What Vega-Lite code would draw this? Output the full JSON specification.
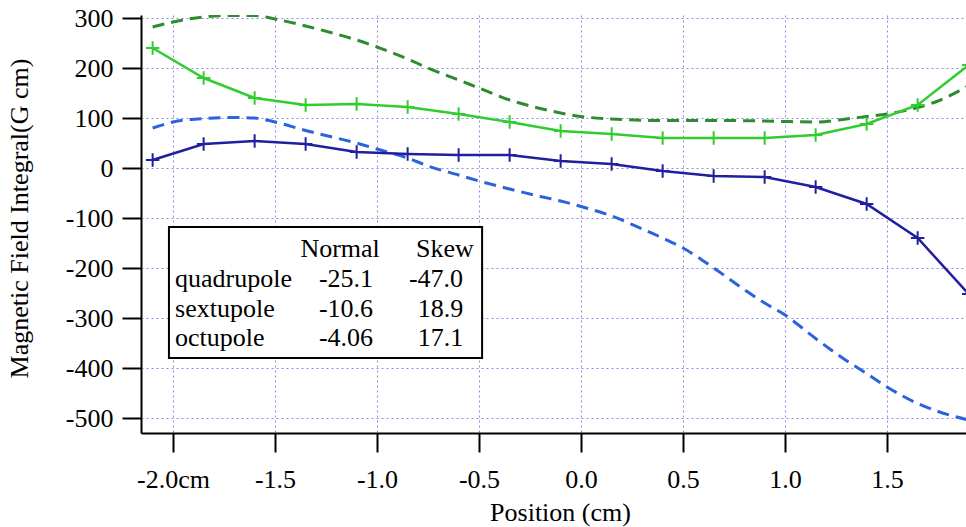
{
  "$schema": "https://vega.github.io/schema/vega-lite/v6.json",
  "width": 825,
  "height": 418,
  "autosize": "none",
  "padding": {"left": 141, "top": 15, "right": 0, "bottom": 94},
  "background": "white",
  "config": {
    "view": {"stroke": null},
    "font": "Liberation Serif",
    "axis": {
      "labelFont": "Liberation Serif",
      "labelFontSize": 26,
      "labelColor": "black",
      "titleFont": "Liberation Serif",
      "titleFontSize": 26,
      "titleFontWeight": "normal",
      "titleColor": "black",
      "domainColor": "black",
      "domainWidth": 2,
      "tickColor": "black",
      "tickWidth": 2,
      "tickSize": 19,
      "grid": true,
      "gridColor": "#8c8ce6",
      "gridDash": [2, 3],
      "gridWidth": 1,
      "gridOpacity": 1
    }
  },
  "datasets": {
    "measured": [
      {"series": "Normal measured", "x": -2.1, "y": 240},
      {"series": "Normal measured", "x": -1.85, "y": 180},
      {"series": "Normal measured", "x": -1.6, "y": 140},
      {"series": "Normal measured", "x": -1.35, "y": 126},
      {"series": "Normal measured", "x": -1.1, "y": 128},
      {"series": "Normal measured", "x": -0.85, "y": 122},
      {"series": "Normal measured", "x": -0.6, "y": 108},
      {"series": "Normal measured", "x": -0.35, "y": 92},
      {"series": "Normal measured", "x": -0.1, "y": 74},
      {"series": "Normal measured", "x": 0.15, "y": 68},
      {"series": "Normal measured", "x": 0.4, "y": 60},
      {"series": "Normal measured", "x": 0.65, "y": 60},
      {"series": "Normal measured", "x": 0.9, "y": 60},
      {"series": "Normal measured", "x": 1.15, "y": 66},
      {"series": "Normal measured", "x": 1.4, "y": 88},
      {"series": "Normal measured", "x": 1.65, "y": 126},
      {"series": "Normal measured", "x": 1.9, "y": 206},
      {"series": "Skew measured", "x": -2.1, "y": 16},
      {"series": "Skew measured", "x": -1.85, "y": 48},
      {"series": "Skew measured", "x": -1.6, "y": 54},
      {"series": "Skew measured", "x": -1.35, "y": 48},
      {"series": "Skew measured", "x": -1.1, "y": 32},
      {"series": "Skew measured", "x": -0.85, "y": 28},
      {"series": "Skew measured", "x": -0.6, "y": 26},
      {"series": "Skew measured", "x": -0.35, "y": 26},
      {"series": "Skew measured", "x": -0.1, "y": 14},
      {"series": "Skew measured", "x": 0.15, "y": 8},
      {"series": "Skew measured", "x": 0.4, "y": -6},
      {"series": "Skew measured", "x": 0.65, "y": -16},
      {"series": "Skew measured", "x": 0.9, "y": -18},
      {"series": "Skew measured", "x": 1.15, "y": -38},
      {"series": "Skew measured", "x": 1.4, "y": -72},
      {"series": "Skew measured", "x": 1.65, "y": -140},
      {"series": "Skew measured", "x": 1.9, "y": -252}
    ],
    "calculated": [
      {"series": "Normal calculated", "x": -2.1, "y": 282},
      {"series": "Normal calculated", "x": -2.0, "y": 292},
      {"series": "Normal calculated", "x": -1.85, "y": 302},
      {"series": "Normal calculated", "x": -1.7, "y": 305},
      {"series": "Normal calculated", "x": -1.6, "y": 305},
      {"series": "Normal calculated", "x": -1.5, "y": 298},
      {"series": "Normal calculated", "x": -1.35, "y": 284},
      {"series": "Normal calculated", "x": -1.2, "y": 268},
      {"series": "Normal calculated", "x": -1.1, "y": 256},
      {"series": "Normal calculated", "x": -1.0, "y": 242},
      {"series": "Normal calculated", "x": -0.85, "y": 218},
      {"series": "Normal calculated", "x": -0.75, "y": 200},
      {"series": "Normal calculated", "x": -0.6, "y": 176},
      {"series": "Normal calculated", "x": -0.5, "y": 160},
      {"series": "Normal calculated", "x": -0.35, "y": 136},
      {"series": "Normal calculated", "x": -0.2, "y": 119},
      {"series": "Normal calculated", "x": -0.1, "y": 110},
      {"series": "Normal calculated", "x": 0.0, "y": 103},
      {"series": "Normal calculated", "x": 0.15, "y": 98},
      {"series": "Normal calculated", "x": 0.4, "y": 95},
      {"series": "Normal calculated", "x": 0.65, "y": 95},
      {"series": "Normal calculated", "x": 0.9, "y": 94},
      {"series": "Normal calculated", "x": 1.0, "y": 93},
      {"series": "Normal calculated", "x": 1.15, "y": 92},
      {"series": "Normal calculated", "x": 1.3, "y": 98},
      {"series": "Normal calculated", "x": 1.4, "y": 103},
      {"series": "Normal calculated", "x": 1.5, "y": 108},
      {"series": "Normal calculated", "x": 1.65, "y": 121},
      {"series": "Normal calculated", "x": 1.75, "y": 134},
      {"series": "Normal calculated", "x": 1.9, "y": 165},
      {"series": "Skew calculated", "x": -2.1, "y": 80},
      {"series": "Skew calculated", "x": -2.0, "y": 92},
      {"series": "Skew calculated", "x": -1.85, "y": 99},
      {"series": "Skew calculated", "x": -1.7, "y": 101},
      {"series": "Skew calculated", "x": -1.6, "y": 100},
      {"series": "Skew calculated", "x": -1.5, "y": 92},
      {"series": "Skew calculated", "x": -1.35, "y": 75},
      {"series": "Skew calculated", "x": -1.2, "y": 60},
      {"series": "Skew calculated", "x": -1.1, "y": 50},
      {"series": "Skew calculated", "x": -1.0, "y": 38},
      {"series": "Skew calculated", "x": -0.85, "y": 20},
      {"series": "Skew calculated", "x": -0.75, "y": 4},
      {"series": "Skew calculated", "x": -0.6, "y": -14},
      {"series": "Skew calculated", "x": -0.5, "y": -26},
      {"series": "Skew calculated", "x": -0.35, "y": -42},
      {"series": "Skew calculated", "x": -0.2, "y": -57},
      {"series": "Skew calculated", "x": -0.1, "y": -66},
      {"series": "Skew calculated", "x": 0.0, "y": -77},
      {"series": "Skew calculated", "x": 0.15, "y": -96},
      {"series": "Skew calculated", "x": 0.3, "y": -122},
      {"series": "Skew calculated", "x": 0.4, "y": -140},
      {"series": "Skew calculated", "x": 0.5, "y": -160},
      {"series": "Skew calculated", "x": 0.65, "y": -200},
      {"series": "Skew calculated", "x": 0.8, "y": -243},
      {"series": "Skew calculated", "x": 0.9, "y": -270},
      {"series": "Skew calculated", "x": 1.0, "y": -294},
      {"series": "Skew calculated", "x": 1.15, "y": -341},
      {"series": "Skew calculated", "x": 1.3, "y": -385},
      {"series": "Skew calculated", "x": 1.4, "y": -411},
      {"series": "Skew calculated", "x": 1.5, "y": -438},
      {"series": "Skew calculated", "x": 1.65, "y": -471},
      {"series": "Skew calculated", "x": 1.75, "y": -487},
      {"series": "Skew calculated", "x": 1.9, "y": -504}
    ],
    "table": [
      {"multipole": "quadrupole", "Normal": "-25.1", "Skew": "-47.0"},
      {"multipole": "sextupole", "Normal": "-10.6", "Skew": "18.9"},
      {"multipole": "octupole", "Normal": "-4.06", "Skew": "17.1"}
    ]
  },
  "layer": [
    {
      "layer": [
        {
          "data": {"name": "calculated"},
          "mark": {"type": "line", "strokeWidth": 3, "strokeDash": [12, 7], "clip": true, "interpolate": "monotone"},
          "encoding": {
            "x": {
              "field": "x",
              "type": "quantitative",
              "scale": {"domain": [-2.157, 1.887], "nice": false, "zero": false},
              "axis": {
                "values": [-2, -1.5, -1, -0.5, 0, 0.5, 1, 1.5],
                "labelExpr": "datum.value == -2 ? '-2.0cm' : (datum.value < 0 ? '-' : '') + format(abs(datum.value), '.1f')",
                "labelPadding": 14,
                "title": "Position (cm)",
                "titleX": 419,
                "titleY": 66,
                "titleBaseline": "top"
              }
            },
            "y": {
              "field": "y",
              "type": "quantitative",
              "scale": {"domain": [-530, 306], "nice": false, "zero": false},
              "axis": {
                "values": [-500, -400, -300, -200, -100, 0, 100, 200, 300],
                "labelExpr": "datum.value < 0 ? '-' + abs(datum.value) : '' + datum.value",
                "labelPadding": 9,
                "title": "Magnetic Field Integral(G cm)",
                "titleX": -109,
                "titleY": 203,
                "titleAngle": 270,
                "titleBaseline": "bottom"
              }
            },
            "color": {
              "field": "series",
              "type": "nominal",
              "scale": {
                "domain": ["Normal measured", "Normal calculated", "Skew measured", "Skew calculated"],
                "range": ["#30cc30", "#2e8b2e", "#1f1fa0", "#2b63dd"]
              },
              "legend": null
            }
          }
        },
        {
          "data": {"name": "measured"},
          "mark": {"type": "line", "strokeWidth": 2.5, "clip": true},
          "encoding": {
            "x": {"field": "x", "type": "quantitative", "title": "Position (cm)"},
            "y": {"field": "y", "type": "quantitative", "title": "Magnetic Field Integral(G cm)"},
            "color": {"field": "series", "type": "nominal", "legend": null}
          }
        },
        {
          "data": {"name": "measured"},
          "mark": {"type": "point", "shape": "M-1,0H1M0,-1V1", "size": 180, "filled": false, "strokeWidth": 2, "opacity": 1, "clip": true},
          "encoding": {
            "x": {"field": "x", "type": "quantitative", "title": "Position (cm)"},
            "y": {"field": "y", "type": "quantitative", "title": "Magnetic Field Integral(G cm)"},
            "color": {"field": "series", "type": "nominal", "legend": null}
          }
        },
        {
          "data": {"values": [{}]},
          "mark": {"type": "rect", "fill": "white", "stroke": "black", "strokeWidth": 2},
          "encoding": {
            "x": {"datum": -2.02, "type": "quantitative"},
            "x2": {"datum": -0.485},
            "y": {"datum": -118, "type": "quantitative"},
            "y2": {"datum": -380}
          }
        },
        {
          "data": {"values": [{}]},
          "mark": {"type": "text", "fontSize": 26, "align": "center", "baseline": "alphabetic", "color": "black"},
          "encoding": {
            "x": {"datum": -1.181, "type": "quantitative"},
            "y": {"datum": -178, "type": "quantitative"},
            "text": {"value": "Normal"}
          }
        },
        {
          "data": {"values": [{}]},
          "mark": {"type": "text", "fontSize": 26, "align": "center", "baseline": "alphabetic", "color": "black"},
          "encoding": {
            "x": {"datum": -0.667, "type": "quantitative"},
            "y": {"datum": -178, "type": "quantitative"},
            "text": {"value": "Skew"}
          }
        }
      ]
    },
    {
      "data": {"name": "table"},
      "encoding": {
        "y": {
          "field": "multipole",
          "type": "nominal",
          "scale": {"type": "point", "domain": ["quadrupole", "sextupole", "octupole"], "range": [272, 331], "padding": 0},
          "axis": null
        }
      },
      "layer": [
        {
          "mark": {"type": "text", "fontSize": 26, "align": "left", "baseline": "alphabetic", "color": "black"},
          "encoding": {
            "x": {"datum": -1.99, "type": "quantitative"},
            "text": {"field": "multipole"}
          }
        },
        {
          "mark": {"type": "text", "fontSize": 26, "align": "center", "baseline": "alphabetic", "color": "black"},
          "encoding": {
            "x": {"datum": -1.152, "type": "quantitative"},
            "text": {"field": "Normal"}
          }
        },
        {
          "mark": {"type": "text", "fontSize": 26, "align": "right", "baseline": "alphabetic", "color": "black"},
          "encoding": {
            "x": {"datum": -0.578, "type": "quantitative"},
            "text": {"field": "Skew"}
          }
        }
      ]
    }
  ],
  "resolve": {"scale": {"y": "independent"}}
}
